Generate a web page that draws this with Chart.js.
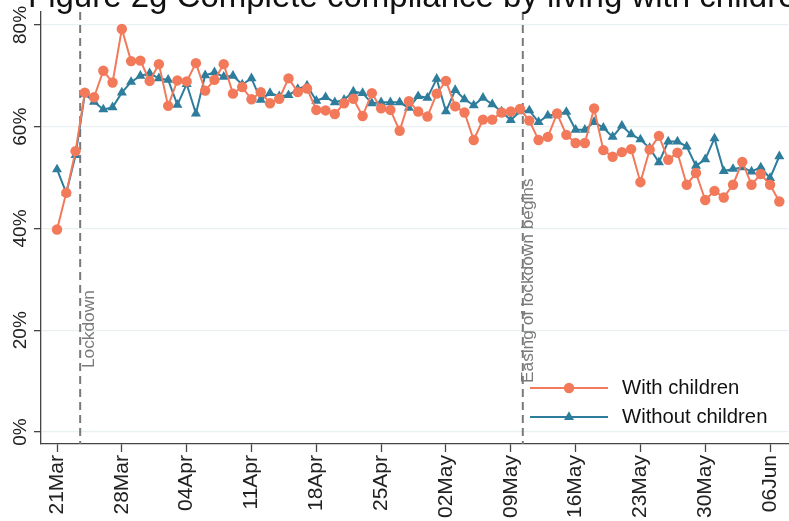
<!DOCTYPE html>
<html>
<head>
<meta charset="utf-8">
<script src="https://cdn.jsdelivr.net/npm/chart.js@4"></script>
<style>
  html, body { margin: 0; padding: 0; background: #fff; overflow: hidden; }
  #wrap { width: 789px; height: 521px; overflow: hidden; }
</style>
</head>
<body>
<div id="wrap"><canvas id="chart" width="794" height="521"></canvas></div>
<script>
// days since 21 March; one value per day
const withChildren = [
  39.8, 47.0, 55.2, 66.7, 65.8, 71.0, 68.7, 79.2, 72.9, 73.0,
  69.0, 72.3, 64.1, 69.1, 68.9, 72.5, 67.1, 69.2, 72.3, 66.5,
  67.8, 65.4, 66.8, 64.6, 65.5, 69.5, 66.8, 67.5, 63.3, 63.2,
  62.5, 64.6, 65.5, 62.1, 66.6, 63.6, 63.3, 59.2, 65.0, 63.0,
  62.0, 66.5, 69.0, 64.0, 62.8, 57.4, 61.4, 61.4, 62.8, 63.0,
  63.5, 61.2, 57.4, 58.0, 62.6, 58.4, 56.8, 56.8, 63.6, 55.4,
  54.1, 55.0, 55.6, 49.1, 55.5, 58.2, 53.5, 54.9, 48.6, 50.9,
  45.6, 47.4, 46.1, 48.6, 53.1, 48.6, 50.7, 48.6, 45.3
];
const withoutChildren = [
  51.6, 47.0, 54.4, 66.4, 64.9, 63.4, 63.8, 66.7, 68.8, 70.0,
  70.5, 69.5, 69.2, 64.3, 68.4, 62.6, 70.1, 70.7, 69.8, 70.0,
  68.3, 69.5, 65.3, 66.6, 66.0, 66.2, 67.4, 68.1, 65.1, 65.8,
  64.8, 65.3, 66.9, 66.6, 64.6, 64.8, 64.8, 64.8, 63.7, 66.0,
  65.7, 69.4, 63.0, 67.2, 65.4, 64.2, 65.7, 64.4, 63.0, 61.3,
  63.0, 63.2, 60.9, 62.2, 62.4, 62.9, 59.4, 59.4, 60.9, 59.8,
  58.0, 60.2, 58.5, 57.5, 55.8, 53.0, 57.1, 57.1, 56.1, 52.3,
  53.6, 57.7, 51.3, 51.7, 52.0, 51.2, 52.0, 49.9, 54.2
];
const seriesNames = ['With children', 'Without children'];

const xTickDays = [0, 7, 14, 21, 28, 35, 42, 49, 56, 63, 70, 77];
const xTickLabels = ['21Mar', '28Mar', '04Apr', '11Apr', '18Apr', '25Apr',
                     '02May', '09May', '16May', '23May', '30May', '06Jun'];
const yTicks = [0, 20, 40, 60, 80];

const eventDays = [2.5, 50.3];
const eventLabels = ['Lockdown', 'Easing of lockdown begins'];

const titleText = 'Figure 2g Complete compliance by living with children';

const FONT = "'Liberation Sans', Arial, sans-serif";
const ORANGE = '#F27A5B';
const BLUE = '#2F7D9C';

Chart.defaults.font.family = FONT;

const toPoints = arr => arr.map((v, i) => ({ x: i, y: v }));

// white page + cut-off title at the very top
const pagePlugin = {
  id: 'page',
  beforeDraw(chart) {
    const ctx = chart.ctx;
    ctx.save();
    ctx.fillStyle = '#fff';
    ctx.fillRect(0, 0, chart.width, chart.height);
    ctx.restore();
  },
  afterDraw(chart) {
    const ctx = chart.ctx;
    ctx.save();
    ctx.font = '33px ' + FONT;
    ctx.fillStyle = '#111';
    ctx.textBaseline = 'alphabetic';
    ctx.fillText(titleText, 28, 7);
    ctx.restore();
  }
};

// dashed event lines with rotated labels
const eventPlugin = {
  id: 'events',
  beforeDatasetsDraw(chart) {
    const ctx = chart.ctx, xs = chart.scales.x, area = chart.chartArea;
    const labelOffset = [14, 10.5];
    const labelBottom = [368, 383];
    ctx.save();
    eventDays.forEach((d, i) => {
      const x = xs.getPixelForValue(d);
      ctx.strokeStyle = '#7a7a7a';
      ctx.lineWidth = 2;
      ctx.setLineDash([8, 5]);
      ctx.beginPath();
      ctx.moveTo(x, area.top);
      ctx.lineTo(x, area.bottom);
      ctx.stroke();
      ctx.setLineDash([]);
      ctx.save();
      ctx.translate(x + labelOffset[i], labelBottom[i]);
      ctx.rotate(-Math.PI / 2);
      ctx.font = '17.3px ' + FONT;
      ctx.fillStyle = '#7a7a7a';
      ctx.textAlign = 'left';
      ctx.textBaseline = 'alphabetic';
      ctx.fillText(eventLabels[i], 0, 0);
      ctx.restore();
    });
    ctx.restore();
  }
};

// legend inside the plot, bottom right
const legendPlugin = {
  id: 'insideLegend',
  afterDraw(chart) {
    const ctx = chart.ctx;
    const left = 530, lineLen = 78, rows = [388, 417];
    ctx.save();
    chart.data.datasets.forEach((ds, i) => {
      const y = rows[i];
      ctx.strokeStyle = ds.borderColor;
      ctx.lineWidth = 2;
      ctx.beginPath();
      ctx.moveTo(left, y);
      ctx.lineTo(left + lineLen, y);
      ctx.stroke();
      ctx.fillStyle = ds.pointBackgroundColor;
      Chart.helpers.drawPoint(ctx, {
        pointStyle: ds.pointStyle, radius: ds.pointRadius, rotation: 0, borderWidth: 0
      }, left + lineLen / 2, y);
      ctx.font = '20.3px ' + FONT;
      ctx.fillStyle = '#111';
      ctx.textBaseline = 'middle';
      ctx.fillText(ds.label, left + 92, y);
    });
    ctx.restore();
  }
};

new Chart(document.getElementById('chart'), {
  type: 'line',
  data: {
    datasets: [
      { label: seriesNames[0], data: toPoints(withChildren), borderColor: ORANGE, backgroundColor: ORANGE,
        pointBackgroundColor: ORANGE, pointBorderWidth: 0, pointRadius: 5.2, pointStyle: 'circle',
        borderWidth: 2, tension: 0 },
      { label: seriesNames[1], data: toPoints(withoutChildren), borderColor: BLUE, backgroundColor: BLUE,
        pointBackgroundColor: BLUE, pointBorderWidth: 0, pointRadius: 5.8, pointStyle: 'triangle',
        borderWidth: 2, tension: 0 }
    ]
  },
  options: {
    responsive: false,
    animation: false,
    devicePixelRatio: 1,
    layout: { padding: { top: 12, right: 0, left: 0, bottom: 0 } },
    plugins: { legend: { display: false }, tooltip: { enabled: false }, title: { display: false } },
    scales: {
      x: {
        type: 'linear', min: -1.73, max: 78.96,
        afterBuildTicks: s => { s.ticks = xTickDays.map(v => ({ value: v })); },
        afterFit: s => { s.height = 77; s.paddingRight = 0; s.paddingLeft = 0; },
        ticks: { minRotation: 90, maxRotation: 90, autoSkip: false, padding: 3, color: '#222',
                 font: { size: 21 }, callback: (v, i) => xTickLabels[i] },
        grid: { drawOnChartArea: false, tickLength: 8, tickColor: '#444', tickWidth: 1.3 },
        border: { color: '#444', width: 1.3 }
      },
      y: {
        min: -2.36, max: 82.55,
        afterBuildTicks: s => { s.ticks = yTicks.map(v => ({ value: v })); },
        afterFit: s => { s.width = 41; s.paddingTop = 0; s.paddingBottom = 0; },
        ticks: { minRotation: 90, maxRotation: 90, crossAlign: 'center', padding: -6, color: '#222',
                 font: { size: 19 }, callback: v => v + '%' },
        grid: { color: '#e8f0f2', lineWidth: 1.3, tickLength: 7, tickColor: '#444', tickWidth: 1.3 },
        border: { color: '#444', width: 1.3 }
      }
    }
  },
  plugins: [pagePlugin, eventPlugin, legendPlugin]
});
</script>
</body>
</html>
